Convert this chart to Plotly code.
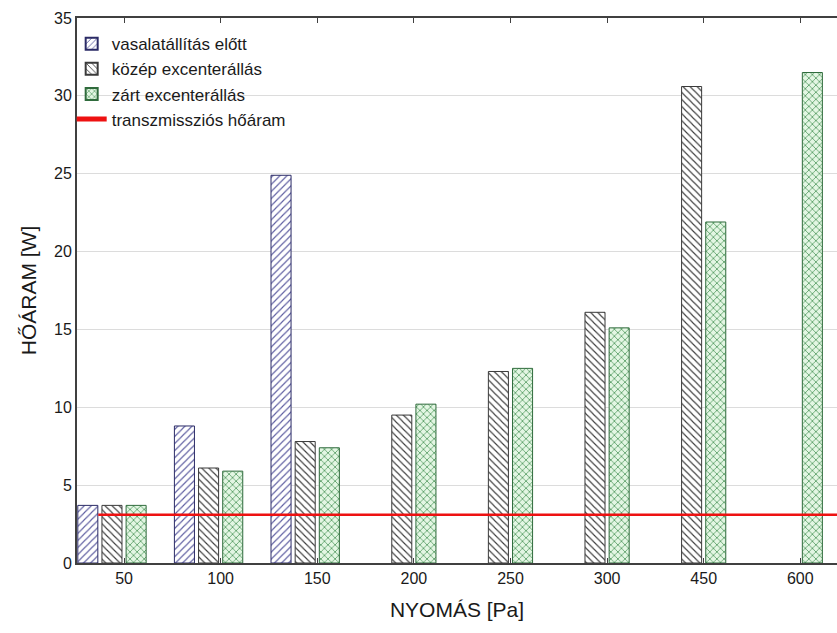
import plotly.graph_objects as go

# Pressure levels on the x axis
pressure = ["50", "100", "150", "200", "250", "300", "450", "600"]

# Heat flow values [W] for each configuration
before_reinforcement = [3.7, 8.8, 24.9, None, None, None, None, None]
middle_eccentric = [3.7, 6.1, 7.8, 9.5, 12.3, 16.1, 30.6, None]
closed_eccentric = [3.7, 5.9, 7.4, 10.2, 12.5, 15.1, 21.9, 31.5]

# Transmission heat flow (constant reference level)
transmission = 3.1

y_ticks = [0, 5, 10, 15, 20, 25, 30, 35]

FONT = "Liberation Sans, Arial, sans-serif"
TEXT = "#1a1a1a"

fig = go.Figure()

fig.add_trace(go.Bar(
    x=pressure, y=before_reinforcement, name="vasalatállítás előtt",
    marker=dict(
        color="#4a4a8e",
        line=dict(color="#2b2b66", width=1),
        pattern=dict(shape="/", fgcolor="#5c5ca0", bgcolor="white",
                     size=5, solidity=0.22, fillmode="replace"),
    ),
))
fig.add_trace(go.Bar(
    x=pressure, y=middle_eccentric, name="közép excenterállás",
    marker=dict(
        color="#404040",
        line=dict(color="#3a3a3a", width=1),
        pattern=dict(shape="\\", fgcolor="#3a3a3a", bgcolor="white",
                     size=5, solidity=0.22, fillmode="replace"),
    ),
))
fig.add_trace(go.Bar(
    x=pressure, y=closed_eccentric, name="zárt excenterállás",
    marker=dict(
        color="#2e7d3e",
        line=dict(color="#2f6b3c", width=1),
        pattern=dict(shape="x", fgcolor="#3a8a4a", bgcolor="#e3f6e3",
                     size=5, solidity=0.25, fillmode="replace"),
    ),
))
# Empty fourth slot of each group (reserved by the line series)
fig.add_trace(go.Bar(
    x=pressure, y=[0] * len(pressure), showlegend=False, hoverinfo="skip",
    marker=dict(color="rgba(0,0,0,0)", line=dict(width=0)),
))

# Legend entry for the transmission line
fig.add_trace(go.Scatter(
    x=[None], y=[None], mode="lines", name="transzmissziós hőáram",
    line=dict(color="#ee1111", width=2),
))

fig.add_shape(
    type="line", xref="x domain", yref="y",
    x0=0.028, x1=1, y0=transmission, y1=transmission,
    line=dict(color="#ee1111", width=2.5), layer="above",
)

fig.update_layout(
    width=837, height=633,
    margin=dict(l=77, r=0, t=18, b=70),
    paper_bgcolor="white", plot_bgcolor="white",
    barmode="group", bargap=0.0, bargroupgap=0.17,
    font=dict(family=FONT, size=16, color=TEXT),
    showlegend=True,
    legend=dict(
        x=-0.007, y=0.985, xanchor="left", yanchor="top",
        bgcolor="rgba(0,0,0,0)", borderwidth=0,
        font=dict(family=FONT, size=17, color=TEXT),
        tracegroupgap=0, itemsizing="constant", itemwidth=30,
    ),
    xaxis=dict(
        type="category", range=[-0.487, 7.38],
        showline=True, linecolor="#404040", linewidth=2, mirror="ticks",
        ticks="inside", ticklen=5, tickcolor="#404040",
        showgrid=False, zeroline=False,
        tickfont=dict(family=FONT, size=16, color=TEXT),
        title=dict(text="NYOMÁS [Pa]", font=dict(family=FONT, size=21, color=TEXT),
                   standoff=16),
    ),
    yaxis=dict(
        range=[0, 35], tickvals=y_ticks,
        showline=True, linecolor="#404040", linewidth=2, mirror=False,
        ticks="", showgrid=True, gridcolor="#dcdcdc", gridwidth=1,
        zeroline=False,
        tickfont=dict(family=FONT, size=16, color=TEXT),
        title=dict(text="HŐÁRAM [W]", font=dict(family=FONT, size=21, color=TEXT),
                   standoff=12),
    ),
)

fig.write_html("out.html")
